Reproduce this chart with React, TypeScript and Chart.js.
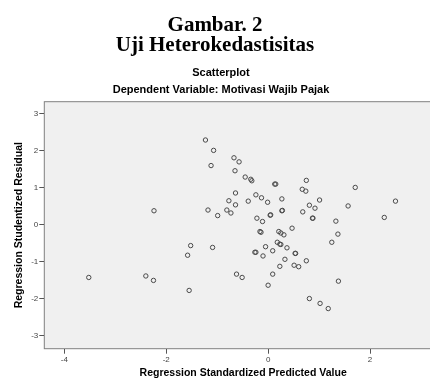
import React, { useEffect, useRef } from "react";
import { Chart, registerables } from "chart.js";

Chart.register(...registerables);

const headingLines = ["Gambar. 2", "Uji Heterokedastisitas"];
const chartTitle = "Scatterplot";
const chartSubtitle = "Dependent Variable: Motivasi Wajib Pajak";
const xAxisTitle = "Regression Standardized Predicted Value";
const yAxisTitle = "Regression Studentized Residual";

const xTicks = [-4, -2, 0, 2];
const yTicks = [-3, -2, -1, 0, 1, 2, 3];

// Regression Standardized Predicted Value
const xValues = [
  -1.23, -1.07, -0.67, -0.57, -1.12, -0.65, -0.45, -0.34, -0.32, 0.13,
  0.15, 0.75, 0.67, 0.74, 1.71, -0.64, -0.24, -0.13, -0.01, 0.27,
  -0.39, -0.77, -0.64, 0.81, 0.92, 1.01, 1.57, 2.5, -2.24, -1.18,
  -0.99, -0.81, -0.73, 0.27, 0.28, 0.68, 0.04, 0.05, -0.22, -0.11,
  0.87, 0.88, 1.33, 2.28, 0.47, -0.16, -0.14, 0.21, 0.25, 0.31,
  1.37, -1.52, -1.58, -1.09, -0.05, 0.18, 0.23, 0.25, 0.37, -0.26,
  -0.24, 0.09, -0.1, 0.53, 0.54, 0.33, 0.75, 1.25, 0.51, 0.6,
  0.23, 0.09, -0.62, -0.51, 0.0, -3.52, -2.4, -2.25, -1.55, 1.38,
  0.81, 1.02, 1.18,
];

// Regression Studentized Residual
const yValues = [
  2.29, 2.01, 1.81, 1.7, 1.6, 1.46, 1.29, 1.23, 1.19, 1.1,
  1.1, 1.2, 0.96, 0.91, 1.01, 0.86, 0.81, 0.73, 0.61, 0.7,
  0.64, 0.65, 0.54, 0.53, 0.45, 0.67, 0.51, 0.64, 0.38, 0.4,
  0.25, 0.4, 0.32, 0.38, 0.39, 0.35, 0.26, 0.27, 0.18, 0.09,
  0.18, 0.18, 0.1, 0.2, -0.09, -0.18, -0.2, -0.18, -0.22, -0.27,
  -0.25, -0.56, -0.82, -0.61, -0.59, -0.47, -0.52, -0.53, -0.62, -0.74,
  -0.74, -0.7, -0.84, -0.77, -0.77, -0.93, -0.97, -0.47, -1.09, -1.13,
  -1.12, -1.33, -1.33, -1.42, -1.63, -1.42, -1.38, -1.5, -1.77, -1.52,
  -1.99, -2.12, -2.26,
];

const FONT = "'Liberation Sans', Arial, sans-serif";

const plotFrame = {
  id: "plotFrame",
  beforeDraw(chart: any) {
    const { ctx, chartArea: a } = chart;
    ctx.save();
    ctx.fillStyle = "#f0f0f0";
    ctx.fillRect(a.left, a.top, a.right - a.left, a.bottom - a.top);
    ctx.strokeStyle = "#808080";
    ctx.lineWidth = 1;
    ctx.strokeRect(a.left, a.top, a.right - a.left, a.bottom - a.top);
    ctx.restore();
  },
};

export default function App() {
  const canvasRef = useRef<HTMLCanvasElement | null>(null);

  useEffect(() => {
    const canvas = canvasRef.current;
    if (!canvas) return;
    const points = xValues.map((x, i) => ({ x, y: yValues[i] }));
    const chart = new Chart(canvas, {
      type: "scatter",
      data: {
        datasets: [
          {
            data: points,
            pointStyle: "circle",
            pointRadius: 2.2,
            pointBorderWidth: 1,
            borderColor: "#4a4a4a",
            backgroundColor: "rgba(0,0,0,0)",
          },
        ],
      },
      options: {
        responsive: false,
        animation: false,
        layout: { padding: { top: 0, left: 0, right: 8, bottom: 0 } },
        plugins: {
          legend: { display: false },
          tooltip: { enabled: false },
          title: {
            display: true,
            text: chartTitle,
            color: "#000",
            font: { family: FONT, size: 11, weight: "bold" },
            padding: { top: 66, bottom: 0 },
          },
          subtitle: {
            display: true,
            text: chartSubtitle,
            color: "#000",
            font: { family: FONT, size: 11, weight: "bold" },
            padding: { top: 4.2, bottom: 5.1 },
          },
        },
        scales: {
          x: {
            type: "linear",
            min: -4.393,
            max: 3.413,
            afterBuildTicks: (s: any) => {
              s.ticks = xTicks.map((v) => ({ value: v }));
            },
            afterFit: (s: any) => {
              s.height = 29.3;
            },
            grid: {
              display: true,
              drawOnChartArea: false,
              drawTicks: true,
              tickLength: 5,
              color: "#555",
            },
            border: { display: false },
            ticks: {
              font: { family: FONT, size: 8 },
              color: "#444",
              padding: 1,
              maxRotation: 0,
              autoSkip: false,
              callback: (v: any) => String(v),
            },
            title: {
              display: true,
              text: xAxisTitle,
              color: "#000",
              font: { family: FONT, size: 10.5, weight: "bold", lineHeight: 1 },
              padding: { top: 0, bottom: 0 },
            },
          },
          y: {
            type: "linear",
            min: -3.343,
            max: 3.324,
            afterBuildTicks: (s: any) => {
              s.ticks = yTicks.map((v) => ({ value: v }));
            },
            afterFit: (s: any) => {
              s.width = 44.3;
            },
            grid: {
              display: true,
              drawOnChartArea: false,
              drawTicks: true,
              tickLength: 5,
              color: "#555",
            },
            border: { display: false },
            ticks: {
              font: { family: FONT, size: 8 },
              color: "#444",
              padding: 1,
              autoSkip: false,
              callback: (v: any) => String(v),
            },
            title: {
              display: true,
              text: yAxisTitle,
              color: "#000",
              font: { family: FONT, size: 10.5, weight: "bold", lineHeight: 1.2 },
              padding: { top: 13, bottom: 0 },
            },
          },
        },
      },
      plugins: [plotFrame],
    } as any);
    return () => chart.destroy();
  }, []);

  return (
    <div
      style={{
        position: "absolute",
        left: 0,
        top: 0,
        width: 430,
        height: 378,
        overflow: "hidden",
        background: "#fff",
      }}
    >
      <canvas
        ref={canvasRef}
        width={450}
        height={378}
        style={{ position: "absolute", left: 0, top: 0, width: 450, height: 378 }}
      />
      <div
        style={{
          position: "absolute",
          left: 0,
          top: 13.6,
          width: 430,
          textAlign: "center",
          fontFamily: "'Liberation Serif', 'Times New Roman', serif",
          fontWeight: "bold",
          fontSize: 21,
          lineHeight: "20px",
          color: "#000",
        }}
      >
        {headingLines.map((t) => (
          <div key={t}>{t}</div>
        ))}
      </div>
    </div>
  );
}
